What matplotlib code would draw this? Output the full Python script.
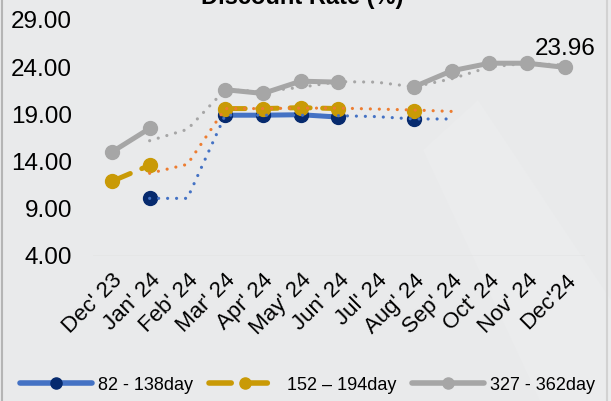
import numpy as np
import matplotlib
import matplotlib.pyplot as plt
from matplotlib.lines import Line2D
from matplotlib.patches import Polygon

matplotlib.use('Agg')

plt.rcParams['font.family'] = ['Liberation Sans', 'DejaVu Sans']

# ===== DATA =====
nan = np.nan
months = ["Dec' 23", "Jan' 24", "Feb' 24", "Mar' 24", "Apr' 24", "May' 24", "Jun' 24",
          "Jul' 24", "Aug' 24", "Sep' 24", "Oct' 24", "Nov' 24", "Dec'24"]

rate_82_138 = [nan, 10.1, nan, 18.9, 18.9, 18.95, 18.7, nan, 18.45, nan, nan, nan, nan]
rate_152_194 = [11.9, 13.6, nan, 19.6, 19.6, 19.7, 19.6, nan, 19.3, nan, nan, nan, nan]
rate_327_362 = [15.0, 17.5, nan, 21.6, 21.2, 22.5, 22.4, nan, 21.9, 23.6, 24.4, 24.4, 23.96]

# dotted trend lines (2-period moving average shown in the source)
trend_82_138 = [nan, 10.1, 10.1, 18.9, 18.9, 18.9, 18.85, 18.75, 18.5, 18.5, nan, nan, nan]
trend_152_194 = [nan, 12.75, 13.7, 19.6, 19.6, 19.65, 19.65, 19.55, 19.45, 19.3, nan, nan, nan]
trend_327_362 = [nan, 16.2, 17.4, 21.6, 21.4, 21.85, 22.45, 22.4, 21.9, 22.75, 24.0, 24.4, 24.2]

labels = ["82 - 138day", "152 \u2013 194day", "327 - 362day"]
yticks = [4, 9, 14, 19, 24, 29]

# ===== COLOURS =====
BLUE = '#4472c4'
NAVY = '#062a6e'
GOLD = '#c99a06'
GRAY = '#a6a6a6'
ORANGE = '#ed7d31'

W, H = 611, 401
fig = plt.figure(figsize=(W / 100, H / 100), dpi=100, facecolor='#e9eaeb')

# faint lighter shape in the background (slide template)
fig.add_artist(Polygon([(423 / W, 1 - 150 / H), (478 / W, 1 - 100 / H), (1, 1 - 300 / H),
                        (1, 0), (540 / W, 0)], closed=True, transform=fig.transFigure,
                       facecolor='#ebeced', edgecolor='none', zorder=0))

ax = fig.add_axes([93 / W, (H - 256) / H, 492 / W, 236.25 / H])
ax.set_facecolor('none')

x = np.arange(len(months))

ax.plot(x, rate_327_362, color=GRAY, lw=3.6, marker='o', ms=10,
        solid_capstyle='round', zorder=2)
ax.plot(x, rate_82_138, color=BLUE, lw=3.6, marker='o', ms=10,
        mfc=NAVY, mec=NAVY, solid_capstyle='round', zorder=3)
ax.plot(x, rate_152_194, color=GOLD, lw=3.6, marker='o', ms=10,
        ls=(0, (4, 2.5)), dash_capstyle='round', zorder=4)

dot = (0, (0.01, 2.8))
ax.plot(x, trend_327_362, color=GRAY, lw=2.3, ls=dot, dash_capstyle='round', zorder=5)
ax.plot(x, trend_82_138, color=BLUE, lw=2.3, ls=dot, dash_capstyle='round', zorder=6)
ax.plot(x, trend_152_194, color=ORANGE, lw=2.3, ls=dot, dash_capstyle='round', zorder=6)

# data label on the last point
ax.annotate(f"{rate_327_362[-1]:.2f}", (x[-1], rate_327_362[-1]), xytext=(0, 9),
            textcoords='offset points', ha='center', va='baseline', fontsize=17.5)

ax.axhline(4, color='#d6d6d6', lw=1, zorder=1)
ax.set_xlim(-0.5, 12.53)
ax.set_ylim(4, 29)
ax.set_yticks(yticks)
ax.set_yticklabels([f"{v:.2f}" for v in yticks], fontsize=17.5)
ax.set_xticks(x)
ax.set_xticklabels(months, fontsize=16, rotation=45, ha='right', va='top',
                   rotation_mode='anchor')
ax.tick_params(axis='y', length=0, pad=15)
ax.tick_params(axis='x', length=0, pad=10)
for s in ax.spines.values():
    s.set_visible(False)

fig.text(302 / W, 1 - 4 / H, 'Discount Rate (%)', ha='center', va='baseline',
         fontsize=17, fontweight='bold')

handles = [
    Line2D([], [], color=BLUE, lw=4, marker='o', ms=8, mfc=NAVY, mec=NAVY,
           solid_capstyle='round'),
    Line2D([], [], color=GOLD, lw=4, marker='o', ms=8, ls=(0, (4, 2.5)),
           dash_capstyle='round'),
    Line2D([], [], color=GRAY, lw=4, marker='o', ms=8, solid_capstyle='round'),
]
fig.legend(handles, labels, loc='center', bbox_to_anchor=(307.5 / W, 1 - 385 / H),
           ncol=3, frameon=False, fontsize=13, handlelength=4.0,
           handletextpad=0.35, columnspacing=0.85)

# chart border on the sides
fig.add_artist(Line2D([1.5 / W, 1.5 / W], [0, 1], transform=fig.transFigure,
                      color='#b5b5b5', lw=1.5))
fig.add_artist(Line2D([607 / W, 607 / W], [0, 1], transform=fig.transFigure,
                      color='#d2d2d2', lw=1.5))

fig.savefig('out.png', dpi=100, facecolor=fig.get_facecolor())
plt.close(fig)
